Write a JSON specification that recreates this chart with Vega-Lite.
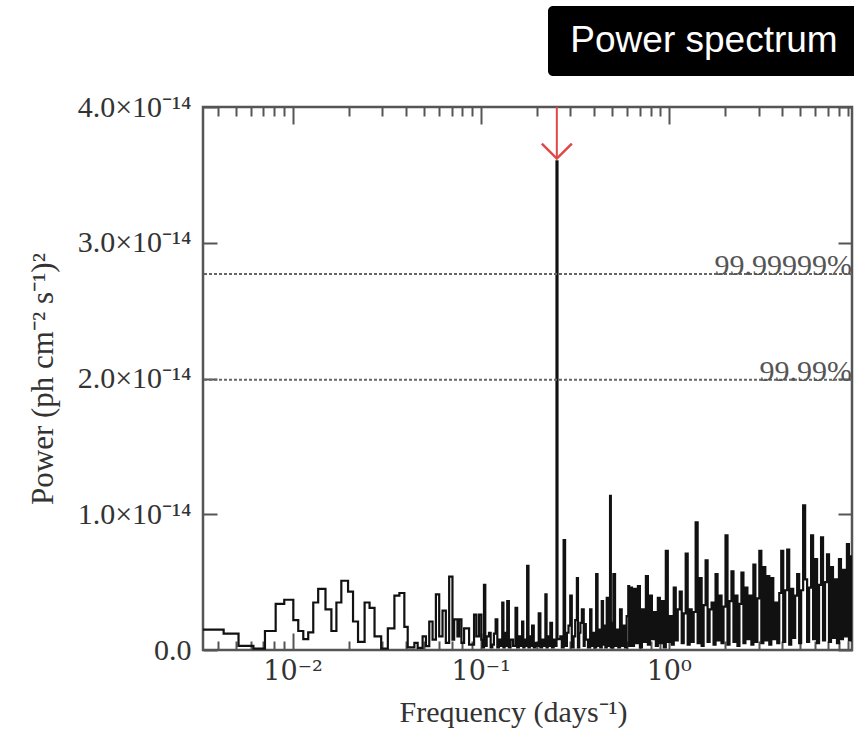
{
  "$schema": "https://vega.github.io/schema/vega-lite/v6.json",
  "background": "white",
  "padding": {"left": 25, "top": 6, "right": 0, "bottom": 0},
  "config": {"font": "Liberation Serif", "view": {"stroke": null}},
  "spacing": 14,
  "vconcat": [
    {
      "spacing": 0,
      "hconcat": [
        {
          "width": 345, "height": 70,
          "view": {"stroke": null},
          "data": {"values": [{"blank": ""}]},
          "mark": {"type": "text"},
          "encoding": {"text": {"field": "blank"}}
        },
        {
          "width": 312, "height": 70,
          "view": {"fill": "black", "stroke": null, "cornerRadius": 5},
          "data": {"values": [{"label": "Power spectrum"}]},
          "mark": {"type": "text", "color": "white", "font": "Liberation Sans", "fontSize": 37, "baseline": "middle", "align": "center"},
          "encoding": {"text": {"field": "label"}}
        }
      ]
    },
    {
      "width": 649, "height": 543,
      "view": {"stroke": "#555", "strokeWidth": 2.5},
      "resolve": {"axis": {"x": "independent", "y": "independent"}},
      "layer": [
        {
          "data": {"values": [
            {"frequency": 0.00334, "power": 0.15}, {"frequency": 0.0043, "power": 0.12}, {"frequency": 0.00516, "power": 0.03}, {"frequency": 0.00619, "power": 0.01},
            {"frequency": 0.00713, "power": 0.14}, {"frequency": 0.00813, "power": 0.34}, {"frequency": 0.00903, "power": 0.37}, {"frequency": 0.01009, "power": 0.22},
            {"frequency": 0.01072, "power": 0.14}, {"frequency": 0.0114, "power": 0.08}, {"frequency": 0.01211, "power": 0.13}, {"frequency": 0.01288, "power": 0.35},
            {"frequency": 0.01368, "power": 0.45}, {"frequency": 0.01496, "power": 0.30}, {"frequency": 0.01608, "power": 0.14}, {"frequency": 0.0171, "power": 0.35},
            {"frequency": 0.01816, "power": 0.51}, {"frequency": 0.01972, "power": 0.43}, {"frequency": 0.02096, "power": 0.21}, {"frequency": 0.02228, "power": 0.06},
            {"frequency": 0.02415, "power": 0.35}, {"frequency": 0.02566, "power": 0.31}, {"frequency": 0.02727, "power": 0.10}, {"frequency": 0.02958, "power": 0.01},
            {"frequency": 0.03209, "power": 0.16}, {"frequency": 0.03478, "power": 0.40}, {"frequency": 0.03697, "power": 0.42}, {"frequency": 0.03928, "power": 0.17},
            {"frequency": 0.04093, "power": 0.02}, {"frequency": 0.04441, "power": 0.053}, {"frequency": 0.04623, "power": 0.016}, {"frequency": 0.04912, "power": 0.10},
            {"frequency": 0.05117, "power": 0.028}, {"frequency": 0.05328, "power": 0.21}, {"frequency": 0.05549, "power": 0.077}, {"frequency": 0.05779, "power": 0.41},
            {"frequency": 0.06018, "power": 0.10}, {"frequency": 0.06268, "power": 0.29}, {"frequency": 0.06527, "power": 0.053}, {"frequency": 0.06798, "power": 0.54},
            {"frequency": 0.0708, "power": 0.077}, {"frequency": 0.07225, "power": 0.225}, {"frequency": 0.07524, "power": 0.10}, {"frequency": 0.07679, "power": 0.225},
            {"frequency": 0.079, "power": 0.053}, {"frequency": 0.08161, "power": 0.16}, {"frequency": 0.08676, "power": 0.04}, {"frequency": 0.09221, "power": 0.26},
            {"frequency": 0.09487, "power": 0.10}, {"frequency": 0.09799, "power": 0.26}, {"frequency": 0.1008, "power": 0.077}, {"frequency": 0.1041, "power": 0.48},
            {"frequency": 0.1076, "power": 0.10}, {"frequency": 0.1107, "power": 0.127}, {"frequency": 0.1153, "power": 0.04}, {"frequency": 0.1201, "power": 0.225},
            {"frequency": 0.125, "power": 0.077}, {"frequency": 0.1302, "power": 0.35}, {"frequency": 0.134, "power": 0.127}, {"frequency": 0.1384, "power": 0.36},
            {"frequency": 0.1441, "power": 0.077}, {"frequency": 0.1532, "power": 0.31}, {"frequency": 0.1595, "power": 0.10}, {"frequency": 0.1661, "power": 0.21},
            {"frequency": 0.1709, "power": 0.077}, {"frequency": 0.1766, "power": 0.62}, {"frequency": 0.1824, "power": 0.10}, {"frequency": 0.1877, "power": 0.18},
            {"frequency": 0.1954, "power": 0.053}, {"frequency": 0.2035, "power": 0.27}, {"frequency": 0.212, "power": 0.077}, {"frequency": 0.2208, "power": 0.41},
            {"frequency": 0.2271, "power": 0.10}, {"frequency": 0.2346, "power": 0.20}, {"frequency": 0.2443, "power": 0.077}, {"frequency": 0.253, "power": 3.60},
            {"frequency": 0.256, "power": 0.08}, {"frequency": 0.265, "power": 0.10}, {"frequency": 0.276, "power": 0.81}, {"frequency": 0.2874, "power": 0.127},
            {"frequency": 0.2993, "power": 0.40}, {"frequency": 0.3118, "power": 0.10}, {"frequency": 0.3247, "power": 0.53}, {"frequency": 0.3341, "power": 0.127},
            {"frequency": 0.3451, "power": 0.30}, {"frequency": 0.3622, "power": 0.077}, {"frequency": 0.3819, "power": 0.30}, {"frequency": 0.3946, "power": 0.127},
            {"frequency": 0.411, "power": 0.56}, {"frequency": 0.4246, "power": 0.15}, {"frequency": 0.4403, "power": 0.36}, {"frequency": 0.453, "power": 0.18},
            {"frequency": 0.4679, "power": 0.385}, {"frequency": 0.4873, "power": 1.135}, {"frequency": 0.4973, "power": 0.20}, {"frequency": 0.5075, "power": 0.56},
            {"frequency": 0.5285, "power": 0.15}, {"frequency": 0.5506, "power": 0.30}, {"frequency": 0.5733, "power": 0.18}, {"frequency": 0.6091, "power": 0.47},
            {"frequency": 0.6219, "power": 0.46}, {"frequency": 0.6372, "power": 0.03}, {"frequency": 0.6529, "power": 0.45}, {"frequency": 0.669, "power": 0.05},
            {"frequency": 0.6855, "power": 0.47}, {"frequency": 0.7024, "power": 0.02}, {"frequency": 0.7198, "power": 0.30}, {"frequency": 0.7375, "power": 0.06},
            {"frequency": 0.7557, "power": 0.545}, {"frequency": 0.7744, "power": 0.04}, {"frequency": 0.7935, "power": 0.40}, {"frequency": 0.813, "power": 0.08},
            {"frequency": 0.8331, "power": 0.28}, {"frequency": 0.8536, "power": 0.03}, {"frequency": 0.8747, "power": 0.385}, {"frequency": 0.8963, "power": 0.05},
            {"frequency": 0.9184, "power": 0.36}, {"frequency": 0.941, "power": 0.02}, {"frequency": 0.9643, "power": 0.73}, {"frequency": 0.9881, "power": 0.06},
            {"frequency": 1.0123, "power": 0.25}, {"frequency": 1.0373, "power": 0.04}, {"frequency": 1.0628, "power": 0.46}, {"frequency": 1.089, "power": 0.07},
            {"frequency": 1.1159, "power": 0.30}, {"frequency": 1.1434, "power": 0.43}, {"frequency": 1.1716, "power": 0.05}, {"frequency": 1.2005, "power": 0.27},
            {"frequency": 1.2301, "power": 0.71}, {"frequency": 1.2604, "power": 0.04}, {"frequency": 1.2915, "power": 0.30}, {"frequency": 1.3234, "power": 0.06},
            {"frequency": 1.356, "power": 0.28}, {"frequency": 1.3895, "power": 0.94}, {"frequency": 1.4237, "power": 0.05}, {"frequency": 1.4589, "power": 0.53},
            {"frequency": 1.4949, "power": 0.03}, {"frequency": 1.5317, "power": 0.33}, {"frequency": 1.5695, "power": 0.66}, {"frequency": 1.6083, "power": 0.06},
            {"frequency": 1.6479, "power": 0.30}, {"frequency": 1.6886, "power": 0.35}, {"frequency": 1.7302, "power": 0.04}, {"frequency": 1.7729, "power": 0.56},
            {"frequency": 1.8166, "power": 0.07}, {"frequency": 1.8614, "power": 0.40}, {"frequency": 1.9073, "power": 0.05}, {"frequency": 1.9544, "power": 0.32},
            {"frequency": 2.0026, "power": 0.845}, {"frequency": 2.052, "power": 0.04}, {"frequency": 2.1026, "power": 0.36}, {"frequency": 2.1545, "power": 0.58},
            {"frequency": 2.2076, "power": 0.06}, {"frequency": 2.2621, "power": 0.40}, {"frequency": 2.3178, "power": 0.03}, {"frequency": 2.3749, "power": 0.34},
            {"frequency": 2.4335, "power": 0.57}, {"frequency": 2.4936, "power": 0.05}, {"frequency": 2.5551, "power": 0.46}, {"frequency": 2.6181, "power": 0.08},
            {"frequency": 2.6827, "power": 0.40}, {"frequency": 2.7489, "power": 0.04}, {"frequency": 2.8167, "power": 0.63}, {"frequency": 2.8862, "power": 0.06},
            {"frequency": 2.9573, "power": 0.38}, {"frequency": 3.0303, "power": 0.73}, {"frequency": 3.105, "power": 0.05}, {"frequency": 3.1816, "power": 0.61},
            {"frequency": 3.2601, "power": 0.07}, {"frequency": 3.3405, "power": 0.545}, {"frequency": 3.4228, "power": 0.04}, {"frequency": 3.5073, "power": 0.53},
            {"frequency": 3.5938, "power": 0.08}, {"frequency": 3.6824, "power": 0.35}, {"frequency": 3.7731, "power": 0.05}, {"frequency": 3.8662, "power": 0.42},
            {"frequency": 3.9616, "power": 0.73}, {"frequency": 4.0593, "power": 0.06}, {"frequency": 4.1594, "power": 0.44}, {"frequency": 4.262, "power": 0.74},
            {"frequency": 4.3671, "power": 0.04}, {"frequency": 4.4748, "power": 0.45}, {"frequency": 4.5852, "power": 0.09}, {"frequency": 4.6983, "power": 0.40},
            {"frequency": 4.8142, "power": 0.56}, {"frequency": 4.9329, "power": 0.05}, {"frequency": 5.0546, "power": 0.44}, {"frequency": 5.1793, "power": 1.066},
            {"frequency": 5.3071, "power": 0.52}, {"frequency": 5.438, "power": 0.06}, {"frequency": 5.5721, "power": 0.46}, {"frequency": 5.7095, "power": 0.845},
            {"frequency": 5.8504, "power": 0.08}, {"frequency": 5.9947, "power": 0.67}, {"frequency": 6.1425, "power": 0.05}, {"frequency": 6.2941, "power": 0.48},
            {"frequency": 6.4493, "power": 0.83}, {"frequency": 6.6084, "power": 0.07}, {"frequency": 6.7714, "power": 0.50}, {"frequency": 6.9385, "power": 0.705},
            {"frequency": 7.1096, "power": 0.06}, {"frequency": 7.285, "power": 0.61}, {"frequency": 7.4647, "power": 0.09}, {"frequency": 7.6488, "power": 0.52},
            {"frequency": 7.8375, "power": 0.05}, {"frequency": 8.0308, "power": 0.67}, {"frequency": 8.2289, "power": 0.08}, {"frequency": 8.4319, "power": 0.59},
            {"frequency": 8.6399, "power": 0.10}, {"frequency": 8.853, "power": 0.78}, {"frequency": 9.0714, "power": 0.07}, {"frequency": 9.2951, "power": 0.69},
            {"frequency": 9.42, "power": 0.40},
            {"frequency": 0.1024, "power": 0.02}, {"frequency": 0.1058, "power": 0.03}, {"frequency": 0.113, "power": 0.02}, {"frequency": 0.1176, "power": 0.12},
            {"frequency": 0.1226, "power": 0.02}, {"frequency": 0.1276, "power": 0.03}, {"frequency": 0.1321, "power": 0.02}, {"frequency": 0.1362, "power": 0.03},
            {"frequency": 0.1412, "power": 0.02}, {"frequency": 0.1486, "power": 0.03}, {"frequency": 0.1563, "power": 0.02}, {"frequency": 0.1628, "power": 0.03},
            {"frequency": 0.1685, "power": 0.02}, {"frequency": 0.1737, "power": 0.03}, {"frequency": 0.1795, "power": 0.02}, {"frequency": 0.185, "power": 0.03},
            {"frequency": 0.1915, "power": 0.02}, {"frequency": 0.1995, "power": 0.03}, {"frequency": 0.2077, "power": 0.02}, {"frequency": 0.2164, "power": 0.03},
            {"frequency": 0.224, "power": 0.02}, {"frequency": 0.2308, "power": 0.03}, {"frequency": 0.2394, "power": 0.02}, {"frequency": 0.249, "power": 0.03},
            {"frequency": 0.27, "power": 0.02}, {"frequency": 0.281, "power": 0.03}, {"frequency": 0.293, "power": 0.18}, {"frequency": 0.305, "power": 0.02},
            {"frequency": 0.318, "power": 0.22}, {"frequency": 0.329, "power": 0.02}, {"frequency": 0.339, "power": 0.20}, {"frequency": 0.353, "power": 0.03},
            {"frequency": 0.357, "power": 0.19}, {"frequency": 0.372, "power": 0.02}, {"frequency": 0.388, "power": 0.03}, {"frequency": 0.403, "power": 0.02},
            {"frequency": 0.418, "power": 0.03}, {"frequency": 0.432, "power": 0.02}, {"frequency": 0.447, "power": 0.04}, {"frequency": 0.46, "power": 0.02},
            {"frequency": 0.478, "power": 0.03}, {"frequency": 0.492, "power": 0.02}, {"frequency": 0.502, "power": 0.02}, {"frequency": 0.518, "power": 0.03},
            {"frequency": 0.539, "power": 0.02}, {"frequency": 0.562, "power": 0.03}, {"frequency": 0.585, "power": 0.02}, {"frequency": 0.597, "power": 0.25},
            {"frequency": 0.6155, "power": 0.03}
          ]},
          "mark": {"type": "line", "interpolate": "step-after", "color": "#111", "strokeWidth": 2.2, "clip": true},
          "encoding": {
            "x": {"field": "frequency", "type": "quantitative",
              "scale": {"type": "log", "domain": [0.00334, 9.42], "nice": false},
              "axis": {"orient": "bottom", "domain": false, "grid": false,
                "values": [0.004, 0.005, 0.006, 0.007, 0.008, 0.009, 0.01, 0.02, 0.03, 0.04, 0.05, 0.06, 0.07, 0.08, 0.09, 0.1, 0.2, 0.3, 0.4, 0.5, 0.6, 0.7, 0.8, 0.9, 1, 2, 3, 4, 5, 6, 7, 8, 9],
                "labelExpr": "datum.value == 0.01 ? '10⁻²' : datum.value == 0.1 ? '10⁻¹' : datum.value == 1 ? '10⁰' : ''",
                "tickSize": {"condition": {"test": "datum.value == 0.01 || datum.value == 0.1 || datum.value == 1", "value": -17}, "value": -9},
                "tickColor": "#555", "tickWidth": 2,
                "labelFont": "DejaVu Serif", "labelFontSize": 27, "labelColor": "#333", "labelPadding": 25, "labelFlush": false, "labelOverlap": false,
                "title": "Frequency (days⁻¹)", "titleFont": "Liberation Serif", "titleFontSize": 30, "titleFontWeight": "normal", "titleColor": "#333", "titlePadding": 5, "titleX": 310}},
            "y": {"field": "power", "type": "quantitative",
              "scale": {"domain": [0, 4], "nice": false},
              "axis": {"orient": "left", "domain": false, "grid": false, "values": [0, 1, 2, 3, 4],
                "labelExpr": "datum.value == 0 ? '0.0' : format(datum.value, '.1f') + '×10⁻¹⁴'",
                "tickSize": -14, "tickColor": "#555", "tickWidth": 2,
                "labelFont": "Liberation Serif", "labelFontSize": 30, "labelColor": "#333", "labelPadding": 26, "labelFlush": false, "labelOverlap": false,
                "title": "Power (ph cm⁻² s⁻¹)²", "titleFont": "Liberation Serif", "titleFontSize": 31, "titleFontWeight": "normal", "titleColor": "#333", "titlePadding": 18}}
          }
        },
        {
          "data": {"values": [{"level": "99.99999%", "power": 2.77}, {"level": "99.99%", "power": 1.99}]},
          "mark": {"type": "rule", "color": "#666", "strokeWidth": 2, "strokeDash": [3, 2]},
          "encoding": {
            "y": {"field": "power", "type": "quantitative", "scale": {"domain": [0, 4], "nice": false},
              "axis": {"orient": "right", "domain": false, "grid": false, "values": [0, 1, 2, 3, 4], "labels": false, "title": null,
                "tickSize": -14, "tickColor": "#555", "tickWidth": 2}}
          }
        },
        {
          "data": {"values": [{"level": "99.99999%", "power": 2.77}, {"level": "99.99%", "power": 1.99}]},
          "mark": {"type": "text", "align": "right", "baseline": "alphabetic", "dx": 0, "dy": 1, "font": "Liberation Serif", "fontSize": 30, "color": "#555"},
          "encoding": {
            "x": {"value": "width"},
            "y": {"field": "power", "type": "quantitative", "scale": {"domain": [0, 4], "nice": false}, "axis": null},
            "text": {"field": "level"}
          }
        },
        {
          "data": {"values": [{"frequency": 0.254, "top": 4.0, "tip": 3.62}]},
          "mark": {"type": "rule", "color": "#e04848", "strokeWidth": 2},
          "encoding": {
            "x": {"field": "frequency", "type": "quantitative", "scale": {"type": "log", "domain": [0.00334, 9.42], "nice": false},
              "axis": {"orient": "top", "domain": false, "grid": false, "labels": false, "title": null,
                "values": [0.004, 0.005, 0.006, 0.007, 0.008, 0.009, 0.01, 0.02, 0.03, 0.04, 0.05, 0.06, 0.07, 0.08, 0.09, 0.1, 0.2, 0.3, 0.4, 0.5, 0.6, 0.7, 0.8, 0.9, 1, 2, 3, 4, 5, 6, 7, 8, 9],
                "tickSize": {"condition": {"test": "datum.value == 0.01 || datum.value == 0.1 || datum.value == 1", "value": -17}, "value": -9},
                "tickColor": "#555", "tickWidth": 2}},
            "y": {"field": "top", "type": "quantitative", "scale": {"domain": [0, 4], "nice": false}, "axis": null},
            "y2": {"field": "tip"}
          }
        },
        {
          "data": {"values": [{"frequency": 0.254, "top": 4.0, "tip": 3.62}]},
          "mark": {"type": "point", "shape": "M-1,-1L0,0L1,-1", "filled": false, "color": "#e04848", "strokeWidth": 2.5, "size": 900, "opacity": 1},
          "encoding": {
            "x": {"field": "frequency", "type": "quantitative", "scale": {"type": "log", "domain": [0.00334, 9.42], "nice": false}, "axis": null},
            "y": {"field": "tip", "type": "quantitative", "scale": {"domain": [0, 4], "nice": false}, "axis": null}
          }
        }
      ]
    }
  ]
}
